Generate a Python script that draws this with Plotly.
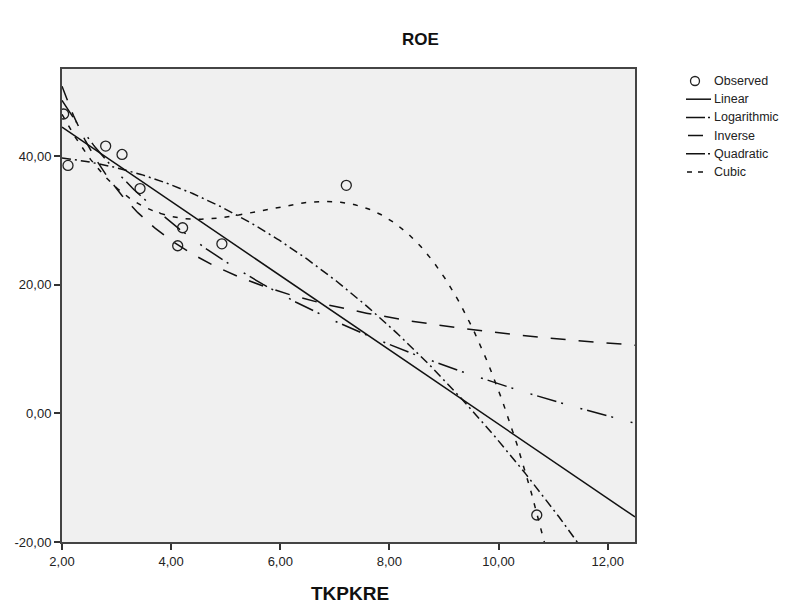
import numpy as np
import plotly.graph_objects as go

tkpkre = [2.03, 2.11, 2.80, 3.10, 3.43, 4.12, 4.21, 4.93, 7.21, 10.70]
roe = [46.6, 38.6, 41.6, 40.3, 35.0, 26.1, 28.9, 26.4, 35.5, -15.8]

x_ticks = [2, 4, 6, 8, 10, 12]
x_tick_labels = ["2,00", "4,00", "6,00", "8,00", "10,00", "12,00"]
y_ticks = [-20, 0, 20, 40]
y_tick_labels = ["-20,00", "0,00", "20,00", "40,00"]

legend_names = ["Observed", "Linear", "Logarithmic", "Inverse", "Quadratic", "Cubic"]

X = np.array(tkpkre)
Y = np.array(roe)
xs = np.linspace(2.0, 12.5, 400)

# Curve estimation fits (least squares on observed data)
lin = np.polyfit(X, Y, 1)
logc = np.polyfit(np.log(X), Y, 1)
invc = np.polyfit(1.0 / X, Y, 1)
quad = np.polyfit(X, Y, 2)
cub = np.polyfit(X, Y, 3)

curves = [
    ("Linear", np.polyval(lin, xs), "solid"),
    ("Logarithmic", np.polyval(logc, np.log(xs)), "20px,5px,2px,18px,2px,5px"),
    ("Inverse", np.polyval(invc, 1.0 / xs), "15px,13px"),
    ("Quadratic", np.polyval(quad, xs), "9px,4px,2px,4px"),
    ("Cubic", np.polyval(cub, xs), "5px,8px"),
]

W, H = 788, 608
ML, MR, MT, MB = 62, 153, 69, 66
PW = W - ML - MR
PH = H - MT - MB


def px(xp):
    return (xp - ML) / PW


def py(yp):
    return (H - MB - yp) / PH


fig = go.Figure()
fig.add_trace(go.Scatter(
    x=tkpkre, y=roe, mode="markers", name="Observed",
    marker=dict(symbol="circle-open", size=10, color="#222222", line=dict(width=1.3)),
))
for name, ys, dash in curves:
    fig.add_trace(go.Scatter(
        x=xs, y=ys, mode="lines", name=name,
        line=dict(color="#111111", width=1.5, dash=dash),
    ))

# Manual legend
shapes = []
annotations = []
leg_dash = {
    "Linear": "solid",
    "Logarithmic": "19px,3px,2px,30px",
    "Inverse": "0px,2px,15px,30px",
    "Quadratic": "19px,3px,2px,30px",
    "Cubic": "0px,1px,5px,6px,5px,30px",
}
row_y0 = 81
row_dy = 18.2
for i, name in enumerate(legend_names):
    yc = row_y0 + i * row_dy
    if name == "Observed":
        r = 4.5
        shapes.append(dict(type="circle", xref="paper", yref="paper",
                           x0=px(695 - r), x1=px(695 + r), y0=py(yc + r), y1=py(yc - r),
                           line=dict(color="#222222", width=1.3)))
    else:
        shapes.append(dict(type="line", xref="paper", yref="paper",
                           x0=px(686), x1=px(711), y0=py(yc), y1=py(yc),
                           line=dict(color="#111111", width=1.5, dash=leg_dash[name])))
    annotations.append(dict(text=name, x=px(712), y=py(yc), xref="paper", yref="paper",
                            xanchor="left", yanchor="middle", showarrow=False,
                            font=dict(size=12.5, color="#222222")))

annotations.append(dict(text="<b>ROE</b>", x=px(420), y=py(40), xref="paper", yref="paper",
                        xanchor="center", yanchor="middle", showarrow=False,
                        font=dict(size=17, color="#111111")))
annotations.append(dict(text="<b>TKPKRE</b>", x=px(350), y=py(593), xref="paper", yref="paper",
                        xanchor="center", yanchor="middle", showarrow=False,
                        font=dict(size=19, color="#111111")))

font_family = "Liberation Sans, Arial, sans-serif"
fig.update_layout(
    width=W, height=H,
    margin=dict(l=ML, r=MR, t=MT, b=MB, autoexpand=False),
    paper_bgcolor="white",
    plot_bgcolor="#f0f0f0",
    font=dict(family=font_family, size=13, color="#222222"),
    showlegend=False,
    xaxis=dict(
        range=[2, 12.5], tickvals=x_ticks, ticktext=x_tick_labels,
        showgrid=False, zeroline=False,
        showline=True, linecolor="#444444", linewidth=2, mirror=True,
        ticks="outside", ticklen=6, tickwidth=2, tickcolor="#333333",
        tickfont=dict(size=13, color="#222222"),
    ),
    yaxis=dict(
        range=[-20, 53.6], tickvals=y_ticks, ticktext=y_tick_labels,
        showgrid=False, zeroline=False,
        showline=True, linecolor="#444444", linewidth=2, mirror=True,
        ticks="outside", ticklen=6, tickwidth=2, tickcolor="#333333",
        tickfont=dict(size=13, color="#222222"),
    ),
    shapes=shapes,
    annotations=annotations,
)

fig.write_html("out.html")
